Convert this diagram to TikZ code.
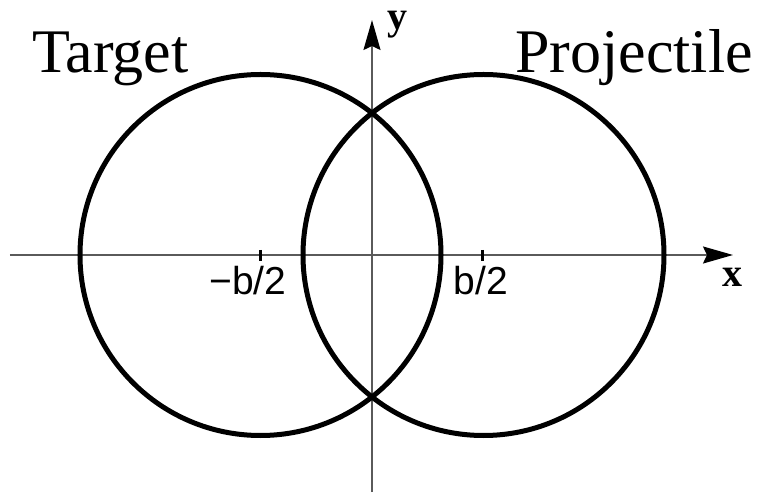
\documentclass[tikz,border=0pt]{standalone}
\usepackage{fontspec}
\setmainfont{Liberation Serif}
\newfontfamily\tickfont{Liberation Sans}
\usetikzlibrary{arrows.meta}
\definecolor{axisgray}{RGB}{90,90,90}

\begin{document}
\begin{tikzpicture}[x=1pt, y=1pt, >={Stealth[length=30pt,width=17pt,inset=4pt,color=black]},
        axisline/.style={draw=axisgray, line width=1.6pt},
        nucleus/.style={circle, draw, line width=5pt, minimum size=361pt, inner sep=0pt},
        tickmark/.style={line width=3pt},
        bigtext/.style={inner sep=0pt, font=\fontsize{62}{62}\selectfont},
        axislabel/.style={inner sep=0pt, font=\fontsize{40}{40}\selectfont\bfseries},
        ticklabel/.style={inner sep=0pt, font=\tickfont\fontsize{39}{39}\selectfont}]
        \useasboundingbox (-372,-239) rectangle (387,255);
        % axes
        \coordinate (xstart) at (-362,0);
        \coordinate (xend) at (361,0);
        \coordinate (ystart) at (0,-237);
        \coordinate (yend) at (0,235);
        \draw [axisline, ->] (xstart) -- (xend);
        \draw [axisline, ->] (ystart) -- (yend);
        \node [axislabel, anchor=base west] (xlabel) at (350,-32) {x};
        \node [axislabel, anchor=base west] (ylabel) at (15,225) {y};
        % nuclei
        \node [nucleus] (target) at (-111.5,0) {};
        \node [nucleus] (projectile) at (111.5,0) {};
        \node [bigtext, anchor=base west] (targetlabel) at (-340,182) {Target};
        \node [bigtext, anchor=base east] (projectilelabel) at (381,182) {Projectile};
        % ticks
        \coordinate (bminus) at (-111,0);
        \coordinate (bplus) at (110,0);
        \draw [tickmark] ([yshift=5pt]bminus) -- ([yshift=-6pt]bminus);
        \draw [tickmark] ([yshift=5pt]bplus) -- ([yshift=-6pt]bplus);
        \node [ticklabel, anchor=base] (bminuslabel) at (-124,-40) {−b/2};
        \node [ticklabel, anchor=base] (bpluslabel) at (109,-40) {b/2};
    \end{tikzpicture}
\end{document}
